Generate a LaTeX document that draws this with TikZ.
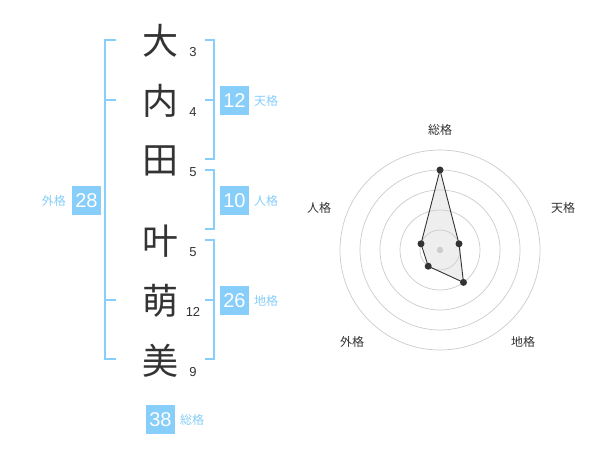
\documentclass[tikz,border=0pt]{standalone}
\usepackage{fontspec}
\setmainfont{Liberation Sans}
\newfontfamily\cjk{Noto Sans CJK JP}
\definecolor{skyb}{RGB}{135,206,250}
\definecolor{ink}{RGB}{51,51,51}
\definecolor{ring}{RGB}{204,204,204}
\begin{document}
\begin{tikzpicture}[x=1pt,y=-1pt,
  kanji/.style={inner sep=0pt,text=ink,font=\cjk\fontsize{36}{36}\selectfont},
  strokes/.style={inner sep=0pt,text=ink,font=\fontsize{13}{13}\selectfont},
  numbox/.style={fill=skyb,text=white,minimum size=29pt,inner sep=0pt,font=\fontsize{20}{20}\selectfont},
  kaku/.style={inner sep=0pt,text=skyb,font=\cjk\fontsize{12}{12}\selectfont},
  axislabel/.style={inner sep=0pt,text=ink,font=\cjk\fontsize{12}{12}\selectfont},
  bracket/.style={draw=skyb,line width=2pt},
  ringline/.style={draw=ring,line width=0.7pt},
  dotpt/.style={circle,fill=ink,inner sep=0pt,minimum size=7pt}]
\useasboundingbox (0,0) rectangle (600,470);
\fill[white] (0,0) rectangle (600,470);
% name characters
\node[kanji] (k1) at (160,41) {大};
\node[kanji] (k2) at (160,101) {内};
\node[kanji] (k3) at (160,161) {田};
\node[kanji] (k4) at (160,241) {叶};
\node[kanji] (k5) at (160,301) {萌};
\node[kanji] (k6) at (160,361) {美};
% stroke counts
\node[strokes] (s1) at (193,52) {3};
\node[strokes] (s2) at (193,112) {4};
\node[strokes] (s3) at (193,172) {5};
\node[strokes] (s4) at (193,252) {5};
\node[strokes] (s5) at (193,312) {12};
\node[strokes] (s6) at (193,372) {9};
% brackets
\draw[bracket] (116,40) -- (105,40) -- (105,359) -- (116,359);
\draw[bracket] (105,100) -- (116,100);
\draw[bracket] (105,300) -- (116,300);
\draw[bracket] (205,40) -- (214,40) -- (214,159) -- (205,159);
\draw[bracket] (214,100) -- (205,100);
\draw[bracket] (205,170) -- (214,170) -- (214,229) -- (205,229);
\draw[bracket] (205,240) -- (214,240) -- (214,359) -- (205,359);
\draw[bracket] (214,300) -- (205,300);
% boxes
\node[numbox] (ten) at (234.5,100.5) {12};
\node[kaku,anchor=west] (tenl) at (254,101) {天格};
\node[numbox] (jin) at (234.5,200.5) {10};
\node[kaku,anchor=west] (jinl) at (254,201) {人格};
\node[numbox] (chi) at (234.5,300.5) {26};
\node[kaku,anchor=west] (chil) at (254,301) {地格};
\node[numbox] (gai) at (86.5,200.5) {28};
\node[kaku,anchor=east] (gail) at (66,201) {外格};
\node[numbox] (sou) at (160.5,419.5) {38};
\node[kaku,anchor=west] (soul) at (180,420) {総格};
% radar
\coordinate (c) at (440,250);
\fill[black!7,opacity=0.9] (440,170) -- (459.0,243.8) -- (463.5,282.4) -- (428.2,266.2) -- (421.0,243.8) -- cycle;
\foreach \r in {20,40,60,80,100} \draw[ringline] (c) circle (\r);
\fill[ring] (c) circle (3.2);
\node[dotpt] (p1) at (440,170) {};
\node[dotpt] (p2) at (459.0,243.8) {};
\node[dotpt] (p3) at (463.5,282.4) {};
\node[dotpt] (p4) at (428.2,266.2) {};
\node[dotpt] (p5) at (421.0,243.8) {};
\draw[ink,line width=0.9pt] (p1.center) -- (p2.center) -- (p3.center) -- (p4.center) -- (p5.center) -- cycle;
\node[axislabel] (a1) at (440,130) {総格};
\node[axislabel] (a2) at (563,208) {天格};
\node[axislabel] (a3) at (319,208) {人格};
\node[axislabel] (a4) at (352,342) {外格};
\node[axislabel] (a5) at (523,342) {地格};
\end{tikzpicture}
\end{document}
